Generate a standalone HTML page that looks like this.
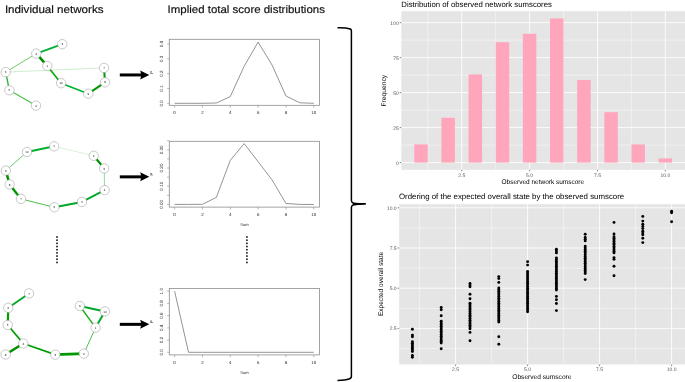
<!DOCTYPE html><html><head><meta charset="utf-8"><style>html,body{margin:0;padding:0;background:#fff;overflow:hidden}svg{display:block}text{font-family:"Liberation Sans", sans-serif;text-rendering:geometricPrecision}</style></head><body>
<svg style="will-change:transform" width="685" height="382" viewBox="0 0 685 382">
<rect width="685" height="382" fill="#fff"/>
<text x="4.9" y="12.85" font-size="10.8" fill="#111" stroke="#111" stroke-width="0.18" textLength="98.6" lengthAdjust="spacingAndGlyphs">Individual networks</text>
<text x="167.6" y="12.85" font-size="10.8" fill="#111" stroke="#111" stroke-width="0.18" textLength="157.3" lengthAdjust="spacingAndGlyphs">Implied total score distributions</text>
<line x1="5.7" y1="72.1" x2="104" y2="67.9" stroke="#c8ecc8" stroke-width="0.9" stroke-opacity="1"/>
<line x1="5.7" y1="72.1" x2="36.3" y2="53.6" stroke="#5cc45c" stroke-width="0.9" stroke-opacity="1"/>
<line x1="36.3" y1="53.6" x2="62.3" y2="44.2" stroke="#00b030" stroke-width="1.8" stroke-opacity="1"/>
<line x1="36.3" y1="53.6" x2="47.3" y2="65.9" stroke="#008f00" stroke-width="2.6" stroke-opacity="1"/>
<line x1="47.3" y1="65.9" x2="61.1" y2="83.2" stroke="#00a800" stroke-width="1.6" stroke-opacity="1"/>
<line x1="61.1" y1="83.2" x2="88.3" y2="93.7" stroke="#00b030" stroke-width="1.7" stroke-opacity="1"/>
<line x1="88.3" y1="93.7" x2="105" y2="82.3" stroke="#009a00" stroke-width="2.1" stroke-opacity="1"/>
<line x1="105" y1="82.3" x2="104" y2="67.9" stroke="#009a00" stroke-width="2.0" stroke-opacity="1"/>
<line x1="5.7" y1="72.1" x2="9.4" y2="90.3" stroke="#2db52d" stroke-width="1.4" stroke-opacity="1"/>
<line x1="9.4" y1="90.3" x2="36" y2="105.6" stroke="#4cc04c" stroke-width="1.2" stroke-opacity="1"/>
<circle cx="62.3" cy="44.2" r="4.7" fill="#fff" stroke="#9c9c9c" stroke-width="0.55"/>
<text x="62.3" y="45.300000000000004" font-size="3.0" text-anchor="middle" fill="#1a1a1a">3</text>
<circle cx="36.3" cy="53.6" r="4.7" fill="#fff" stroke="#9c9c9c" stroke-width="0.55"/>
<text x="36.3" y="54.7" font-size="3.0" text-anchor="middle" fill="#1a1a1a">2</text>
<circle cx="47.3" cy="65.9" r="4.7" fill="#fff" stroke="#9c9c9c" stroke-width="0.55"/>
<text x="47.3" y="67.0" font-size="3.0" text-anchor="middle" fill="#1a1a1a">1</text>
<circle cx="5.7" cy="72.1" r="4.7" fill="#fff" stroke="#9c9c9c" stroke-width="0.55"/>
<text x="5.7" y="73.19999999999999" font-size="3.0" text-anchor="middle" fill="#1a1a1a">6</text>
<circle cx="104" cy="67.9" r="4.7" fill="#fff" stroke="#9c9c9c" stroke-width="0.55"/>
<text x="104" y="69.0" font-size="3.0" text-anchor="middle" fill="#1a1a1a">7</text>
<circle cx="105" cy="82.3" r="4.7" fill="#fff" stroke="#9c9c9c" stroke-width="0.55"/>
<text x="105" y="83.39999999999999" font-size="3.0" text-anchor="middle" fill="#1a1a1a">8</text>
<circle cx="61.1" cy="83.2" r="4.7" fill="#fff" stroke="#9c9c9c" stroke-width="0.55"/>
<text x="61.1" y="84.3" font-size="3.0" text-anchor="middle" fill="#1a1a1a">10</text>
<circle cx="88.3" cy="93.7" r="4.7" fill="#fff" stroke="#9c9c9c" stroke-width="0.55"/>
<text x="88.3" y="94.8" font-size="3.0" text-anchor="middle" fill="#1a1a1a">9</text>
<circle cx="9.4" cy="90.3" r="4.7" fill="#fff" stroke="#9c9c9c" stroke-width="0.55"/>
<text x="9.4" y="91.39999999999999" font-size="3.0" text-anchor="middle" fill="#1a1a1a">5</text>
<circle cx="36" cy="105.6" r="4.7" fill="#fff" stroke="#9c9c9c" stroke-width="0.55"/>
<text x="36" y="106.69999999999999" font-size="3.0" text-anchor="middle" fill="#1a1a1a">4</text>
<line x1="54.2" y1="146.3" x2="27.0" y2="152.0" stroke="#00b030" stroke-width="1.9" stroke-opacity="1"/>
<line x1="27.0" y1="152.0" x2="5.8" y2="170.6" stroke="#5cc45c" stroke-width="0.9" stroke-opacity="1"/>
<line x1="5.8" y1="170.6" x2="9.6" y2="184.5" stroke="#009000" stroke-width="2.5" stroke-opacity="1"/>
<line x1="9.6" y1="184.5" x2="21.0" y2="198.9" stroke="#009a00" stroke-width="2.4" stroke-opacity="1"/>
<line x1="21.0" y1="198.9" x2="54.4" y2="207.3" stroke="#4cc04c" stroke-width="1.0" stroke-opacity="1"/>
<line x1="54.4" y1="207.3" x2="82.0" y2="201.9" stroke="#00a828" stroke-width="2.0" stroke-opacity="1"/>
<line x1="82.0" y1="201.9" x2="104.6" y2="190.1" stroke="#00a828" stroke-width="1.8" stroke-opacity="1"/>
<line x1="104.6" y1="190.1" x2="104.2" y2="168.4" stroke="#7ad27a" stroke-width="0.8" stroke-opacity="1"/>
<line x1="104.2" y1="168.4" x2="93.7" y2="155.8" stroke="#009000" stroke-width="2.2" stroke-opacity="1"/>
<line x1="93.7" y1="155.8" x2="54.2" y2="146.3" stroke="#c5eac5" stroke-width="0.6" stroke-opacity="1"/>
<circle cx="54.2" cy="146.3" r="4.7" fill="#fff" stroke="#9c9c9c" stroke-width="0.55"/>
<text x="54.2" y="147.4" font-size="3.0" text-anchor="middle" fill="#1a1a1a">1</text>
<circle cx="27.0" cy="152.0" r="4.7" fill="#fff" stroke="#9c9c9c" stroke-width="0.55"/>
<text x="27.0" y="153.1" font-size="3.0" text-anchor="middle" fill="#1a1a1a">10</text>
<circle cx="5.8" cy="170.6" r="4.7" fill="#fff" stroke="#9c9c9c" stroke-width="0.55"/>
<text x="5.8" y="171.7" font-size="3.0" text-anchor="middle" fill="#1a1a1a">9</text>
<circle cx="9.6" cy="184.5" r="4.7" fill="#fff" stroke="#9c9c9c" stroke-width="0.55"/>
<text x="9.6" y="185.6" font-size="3.0" text-anchor="middle" fill="#1a1a1a">8</text>
<circle cx="21.0" cy="198.9" r="4.7" fill="#fff" stroke="#9c9c9c" stroke-width="0.55"/>
<text x="21.0" y="200.0" font-size="3.0" text-anchor="middle" fill="#1a1a1a">7</text>
<circle cx="54.4" cy="207.3" r="4.7" fill="#fff" stroke="#9c9c9c" stroke-width="0.55"/>
<text x="54.4" y="208.4" font-size="3.0" text-anchor="middle" fill="#1a1a1a">6</text>
<circle cx="82.0" cy="201.9" r="4.7" fill="#fff" stroke="#9c9c9c" stroke-width="0.55"/>
<text x="82.0" y="203.0" font-size="3.0" text-anchor="middle" fill="#1a1a1a">5</text>
<circle cx="104.6" cy="190.1" r="4.7" fill="#fff" stroke="#9c9c9c" stroke-width="0.55"/>
<text x="104.6" y="191.2" font-size="3.0" text-anchor="middle" fill="#1a1a1a">4</text>
<circle cx="104.2" cy="168.4" r="4.7" fill="#fff" stroke="#9c9c9c" stroke-width="0.55"/>
<text x="104.2" y="169.5" font-size="3.0" text-anchor="middle" fill="#1a1a1a">3</text>
<circle cx="93.7" cy="155.8" r="4.7" fill="#fff" stroke="#9c9c9c" stroke-width="0.55"/>
<text x="93.7" y="156.9" font-size="3.0" text-anchor="middle" fill="#1a1a1a">2</text>
<line x1="29.0" y1="293.4" x2="8.3" y2="307.8" stroke="#00a828" stroke-width="1.8" stroke-opacity="1"/>
<line x1="8.3" y1="307.8" x2="7.7" y2="325.0" stroke="#00a000" stroke-width="2.2" stroke-opacity="1"/>
<line x1="7.7" y1="325.0" x2="23.3" y2="343.5" stroke="#00a000" stroke-width="1.8" stroke-opacity="1"/>
<line x1="23.3" y1="343.5" x2="5.6" y2="354.5" stroke="#009000" stroke-width="2.6" stroke-opacity="1"/>
<line x1="23.3" y1="343.5" x2="55.3" y2="354.6" stroke="#00a000" stroke-width="1.8" stroke-opacity="1"/>
<line x1="55.3" y1="354.6" x2="83.8" y2="353.6" stroke="#009a00" stroke-width="2.6" stroke-opacity="1"/>
<line x1="83.8" y1="353.6" x2="95.6" y2="327.6" stroke="#4cc04c" stroke-width="1.0" stroke-opacity="1"/>
<line x1="95.6" y1="327.6" x2="79.8" y2="306.0" stroke="#22b022" stroke-width="1.5" stroke-opacity="1"/>
<line x1="95.6" y1="327.6" x2="104.9" y2="311.4" stroke="#00a828" stroke-width="2.0" stroke-opacity="1"/>
<line x1="79.8" y1="306.0" x2="104.9" y2="311.4" stroke="#00a828" stroke-width="2.0" stroke-opacity="1"/>
<circle cx="29.0" cy="293.4" r="4.7" fill="#fff" stroke="#9c9c9c" stroke-width="0.55"/>
<text x="29.0" y="294.5" font-size="3.0" text-anchor="middle" fill="#1a1a1a">7</text>
<circle cx="8.3" cy="307.8" r="4.7" fill="#fff" stroke="#9c9c9c" stroke-width="0.55"/>
<text x="8.3" y="308.90000000000003" font-size="3.0" text-anchor="middle" fill="#1a1a1a">6</text>
<circle cx="7.7" cy="325.0" r="4.7" fill="#fff" stroke="#9c9c9c" stroke-width="0.55"/>
<text x="7.7" y="326.1" font-size="3.0" text-anchor="middle" fill="#1a1a1a">5</text>
<circle cx="23.3" cy="343.5" r="4.7" fill="#fff" stroke="#9c9c9c" stroke-width="0.55"/>
<text x="23.3" y="344.6" font-size="3.0" text-anchor="middle" fill="#1a1a1a">4</text>
<circle cx="5.6" cy="354.5" r="4.7" fill="#fff" stroke="#9c9c9c" stroke-width="0.55"/>
<text x="5.6" y="355.6" font-size="3.0" text-anchor="middle" fill="#1a1a1a">8</text>
<circle cx="55.3" cy="354.6" r="4.7" fill="#fff" stroke="#9c9c9c" stroke-width="0.55"/>
<text x="55.3" y="355.70000000000005" font-size="3.0" text-anchor="middle" fill="#1a1a1a">3</text>
<circle cx="83.8" cy="353.6" r="4.7" fill="#fff" stroke="#9c9c9c" stroke-width="0.55"/>
<text x="83.8" y="354.70000000000005" font-size="3.0" text-anchor="middle" fill="#1a1a1a">2</text>
<circle cx="95.6" cy="327.6" r="4.7" fill="#fff" stroke="#9c9c9c" stroke-width="0.55"/>
<text x="95.6" y="328.70000000000005" font-size="3.0" text-anchor="middle" fill="#1a1a1a">1</text>
<circle cx="79.8" cy="306.0" r="4.7" fill="#fff" stroke="#9c9c9c" stroke-width="0.55"/>
<text x="79.8" y="307.1" font-size="3.0" text-anchor="middle" fill="#1a1a1a">9</text>
<circle cx="104.9" cy="311.4" r="4.7" fill="#fff" stroke="#9c9c9c" stroke-width="0.55"/>
<text x="104.9" y="312.5" font-size="3.0" text-anchor="middle" fill="#1a1a1a">10</text>
<line x1="119.8" y1="74.95" x2="142.5" y2="74.95" stroke="#000" stroke-width="3.0"/>
<path d="M149.3 74.95 L140.2 70.45 L141.4 74.95 L140.2 79.45 Z" fill="#000"/>
<line x1="119.8" y1="176.85" x2="142.5" y2="176.85" stroke="#000" stroke-width="3.0"/>
<path d="M149.3 176.85 L140.2 172.35 L141.4 176.85 L140.2 181.35 Z" fill="#000"/>
<line x1="119.8" y1="324.35" x2="142.5" y2="324.35" stroke="#000" stroke-width="3.0"/>
<path d="M149.3 324.35 L140.2 319.85 L141.4 324.35 L140.2 328.85 Z" fill="#000"/>
<rect x="56.2" y="236.2" width="1.6" height="1.6" fill="#111"/>
<rect x="56.2" y="239.38" width="1.6" height="1.6" fill="#111"/>
<rect x="56.2" y="242.56" width="1.6" height="1.6" fill="#111"/>
<rect x="56.2" y="245.73999999999998" width="1.6" height="1.6" fill="#111"/>
<rect x="56.2" y="248.92" width="1.6" height="1.6" fill="#111"/>
<rect x="56.2" y="252.1" width="1.6" height="1.6" fill="#111"/>
<rect x="56.2" y="255.27999999999997" width="1.6" height="1.6" fill="#111"/>
<rect x="56.2" y="258.46" width="1.6" height="1.6" fill="#111"/>
<rect x="56.2" y="261.64" width="1.6" height="1.6" fill="#111"/>
<rect x="246.1" y="236.2" width="1.6" height="1.6" fill="#111"/>
<rect x="246.1" y="239.38" width="1.6" height="1.6" fill="#111"/>
<rect x="246.1" y="242.56" width="1.6" height="1.6" fill="#111"/>
<rect x="246.1" y="245.73999999999998" width="1.6" height="1.6" fill="#111"/>
<rect x="246.1" y="248.92" width="1.6" height="1.6" fill="#111"/>
<rect x="246.1" y="252.1" width="1.6" height="1.6" fill="#111"/>
<rect x="246.1" y="255.27999999999997" width="1.6" height="1.6" fill="#111"/>
<rect x="246.1" y="258.46" width="1.6" height="1.6" fill="#111"/>
<rect x="246.1" y="261.64" width="1.6" height="1.6" fill="#111"/>
<rect x="169.3" y="39.3" width="150.2" height="66.0" fill="none" stroke="#8c8c8c" stroke-width="0.8"/>
<line x1="167.10000000000002" y1="103.3" x2="169.3" y2="103.3" stroke="#8c8c8c" stroke-width="0.6"/>
<line x1="167.10000000000002" y1="88.47999999999999" x2="169.3" y2="88.47999999999999" stroke="#8c8c8c" stroke-width="0.6"/>
<line x1="167.10000000000002" y1="73.66" x2="169.3" y2="73.66" stroke="#8c8c8c" stroke-width="0.6"/>
<line x1="167.10000000000002" y1="58.839999999999996" x2="169.3" y2="58.839999999999996" stroke="#8c8c8c" stroke-width="0.6"/>
<line x1="167.10000000000002" y1="44.019999999999996" x2="169.3" y2="44.019999999999996" stroke="#8c8c8c" stroke-width="0.6"/>
<text transform="translate(163.2 103.3) rotate(-90)" font-size="4.6" text-anchor="middle" fill="#222">0.0</text>
<text transform="translate(163.2 88.47999999999999) rotate(-90)" font-size="4.6" text-anchor="middle" fill="#222">0.1</text>
<text transform="translate(163.2 73.66) rotate(-90)" font-size="4.6" text-anchor="middle" fill="#222">0.2</text>
<text transform="translate(163.2 58.839999999999996) rotate(-90)" font-size="4.6" text-anchor="middle" fill="#222">0.3</text>
<text transform="translate(163.2 44.019999999999996) rotate(-90)" font-size="4.6" text-anchor="middle" fill="#222">0.4</text>
<line x1="174.6" y1="105.3" x2="174.6" y2="107.7" stroke="#8c8c8c" stroke-width="0.6"/>
<text x="174.6" y="114.39999999999999" font-size="4.4" text-anchor="middle" fill="#222">0</text>
<line x1="202.44" y1="105.3" x2="202.44" y2="107.7" stroke="#8c8c8c" stroke-width="0.6"/>
<text x="202.44" y="114.39999999999999" font-size="4.4" text-anchor="middle" fill="#222">2</text>
<line x1="230.28" y1="105.3" x2="230.28" y2="107.7" stroke="#8c8c8c" stroke-width="0.6"/>
<text x="230.28" y="114.39999999999999" font-size="4.4" text-anchor="middle" fill="#222">4</text>
<line x1="258.12" y1="105.3" x2="258.12" y2="107.7" stroke="#8c8c8c" stroke-width="0.6"/>
<text x="258.12" y="114.39999999999999" font-size="4.4" text-anchor="middle" fill="#222">6</text>
<line x1="285.96" y1="105.3" x2="285.96" y2="107.7" stroke="#8c8c8c" stroke-width="0.6"/>
<text x="285.96" y="114.39999999999999" font-size="4.4" text-anchor="middle" fill="#222">8</text>
<line x1="313.79999999999995" y1="105.3" x2="313.79999999999995" y2="107.7" stroke="#8c8c8c" stroke-width="0.6"/>
<text x="313.79999999999995" y="114.39999999999999" font-size="4.4" text-anchor="middle" fill="#222">10</text>
<text transform="translate(153.4 72.3) rotate(-90)" font-size="4.0" text-anchor="middle" fill="#222">P</text>
<path d="M174.60 103.30 L188.52 103.30 L202.44 103.30 L216.36 103.00 L230.28 96.60 L244.20 66.20 L258.12 42.10 L272.04 65.00 L285.96 96.00 L299.88 102.80 L313.80 103.30" fill="none" stroke="#666" stroke-width="0.7"/>
<rect x="169.3" y="141.3" width="150.2" height="65.79999999999998" fill="none" stroke="#8c8c8c" stroke-width="0.8"/>
<line x1="167.10000000000002" y1="204.4" x2="169.3" y2="204.4" stroke="#8c8c8c" stroke-width="0.6"/>
<line x1="167.10000000000002" y1="195.3" x2="169.3" y2="195.3" stroke="#8c8c8c" stroke-width="0.6"/>
<line x1="167.10000000000002" y1="186.20000000000002" x2="169.3" y2="186.20000000000002" stroke="#8c8c8c" stroke-width="0.6"/>
<line x1="167.10000000000002" y1="177.10000000000002" x2="169.3" y2="177.10000000000002" stroke="#8c8c8c" stroke-width="0.6"/>
<line x1="167.10000000000002" y1="168.0" x2="169.3" y2="168.0" stroke="#8c8c8c" stroke-width="0.6"/>
<line x1="167.10000000000002" y1="158.9" x2="169.3" y2="158.9" stroke="#8c8c8c" stroke-width="0.6"/>
<line x1="167.10000000000002" y1="149.8" x2="169.3" y2="149.8" stroke="#8c8c8c" stroke-width="0.6"/>
<line x1="167.10000000000002" y1="140.70000000000002" x2="169.3" y2="140.70000000000002" stroke="#8c8c8c" stroke-width="0.6"/>
<text transform="translate(163.2 204.4) rotate(-90)" font-size="4.6" text-anchor="middle" fill="#222">0.00</text>
<text transform="translate(163.2 186.20000000000002) rotate(-90)" font-size="4.6" text-anchor="middle" fill="#222">0.10</text>
<text transform="translate(163.2 168.0) rotate(-90)" font-size="4.6" text-anchor="middle" fill="#222">0.20</text>
<text transform="translate(163.2 149.8) rotate(-90)" font-size="4.6" text-anchor="middle" fill="#222">0.30</text>
<line x1="174.6" y1="207.1" x2="174.6" y2="209.5" stroke="#8c8c8c" stroke-width="0.6"/>
<text x="174.6" y="216.2" font-size="4.4" text-anchor="middle" fill="#222">0</text>
<line x1="202.44" y1="207.1" x2="202.44" y2="209.5" stroke="#8c8c8c" stroke-width="0.6"/>
<text x="202.44" y="216.2" font-size="4.4" text-anchor="middle" fill="#222">2</text>
<line x1="230.28" y1="207.1" x2="230.28" y2="209.5" stroke="#8c8c8c" stroke-width="0.6"/>
<text x="230.28" y="216.2" font-size="4.4" text-anchor="middle" fill="#222">4</text>
<line x1="258.12" y1="207.1" x2="258.12" y2="209.5" stroke="#8c8c8c" stroke-width="0.6"/>
<text x="258.12" y="216.2" font-size="4.4" text-anchor="middle" fill="#222">6</text>
<line x1="285.96" y1="207.1" x2="285.96" y2="209.5" stroke="#8c8c8c" stroke-width="0.6"/>
<text x="285.96" y="216.2" font-size="4.4" text-anchor="middle" fill="#222">8</text>
<line x1="313.79999999999995" y1="207.1" x2="313.79999999999995" y2="209.5" stroke="#8c8c8c" stroke-width="0.6"/>
<text x="313.79999999999995" y="216.2" font-size="4.4" text-anchor="middle" fill="#222">10</text>
<text transform="translate(153.4 174.2) rotate(-90)" font-size="4.0" text-anchor="middle" fill="#222">P</text>
<text x="244.4" y="226.1" font-size="4.0" text-anchor="middle" fill="#222">Sum</text>
<path d="M174.60 204.40 L188.52 204.40 L202.44 204.30 L216.36 197.40 L230.28 160.30 L244.20 143.60 L258.12 161.70 L272.04 179.90 L285.96 203.50 L299.88 204.40 L313.80 204.50" fill="none" stroke="#666" stroke-width="0.7"/>
<rect x="169.3" y="288.4" width="150.2" height="66.5" fill="none" stroke="#8c8c8c" stroke-width="0.8"/>
<line x1="167.10000000000002" y1="352.3" x2="169.3" y2="352.3" stroke="#8c8c8c" stroke-width="0.6"/>
<line x1="167.10000000000002" y1="340.08" x2="169.3" y2="340.08" stroke="#8c8c8c" stroke-width="0.6"/>
<line x1="167.10000000000002" y1="327.86" x2="169.3" y2="327.86" stroke="#8c8c8c" stroke-width="0.6"/>
<line x1="167.10000000000002" y1="315.64" x2="169.3" y2="315.64" stroke="#8c8c8c" stroke-width="0.6"/>
<line x1="167.10000000000002" y1="303.42" x2="169.3" y2="303.42" stroke="#8c8c8c" stroke-width="0.6"/>
<line x1="167.10000000000002" y1="291.2" x2="169.3" y2="291.2" stroke="#8c8c8c" stroke-width="0.6"/>
<text transform="translate(163.2 352.3) rotate(-90)" font-size="4.6" text-anchor="middle" fill="#222">0.0</text>
<text transform="translate(163.2 340.08) rotate(-90)" font-size="4.6" text-anchor="middle" fill="#222">0.2</text>
<text transform="translate(163.2 327.86) rotate(-90)" font-size="4.6" text-anchor="middle" fill="#222">0.4</text>
<text transform="translate(163.2 315.64) rotate(-90)" font-size="4.6" text-anchor="middle" fill="#222">0.6</text>
<text transform="translate(163.2 303.42) rotate(-90)" font-size="4.6" text-anchor="middle" fill="#222">0.8</text>
<text transform="translate(163.2 291.2) rotate(-90)" font-size="4.6" text-anchor="middle" fill="#222">1.0</text>
<line x1="174.6" y1="354.9" x2="174.6" y2="357.29999999999995" stroke="#8c8c8c" stroke-width="0.6"/>
<text x="174.6" y="364.0" font-size="4.4" text-anchor="middle" fill="#222">0</text>
<line x1="202.44" y1="354.9" x2="202.44" y2="357.29999999999995" stroke="#8c8c8c" stroke-width="0.6"/>
<text x="202.44" y="364.0" font-size="4.4" text-anchor="middle" fill="#222">2</text>
<line x1="230.28" y1="354.9" x2="230.28" y2="357.29999999999995" stroke="#8c8c8c" stroke-width="0.6"/>
<text x="230.28" y="364.0" font-size="4.4" text-anchor="middle" fill="#222">4</text>
<line x1="258.12" y1="354.9" x2="258.12" y2="357.29999999999995" stroke="#8c8c8c" stroke-width="0.6"/>
<text x="258.12" y="364.0" font-size="4.4" text-anchor="middle" fill="#222">6</text>
<line x1="285.96" y1="354.9" x2="285.96" y2="357.29999999999995" stroke="#8c8c8c" stroke-width="0.6"/>
<text x="285.96" y="364.0" font-size="4.4" text-anchor="middle" fill="#222">8</text>
<line x1="313.79999999999995" y1="354.9" x2="313.79999999999995" y2="357.29999999999995" stroke="#8c8c8c" stroke-width="0.6"/>
<text x="313.79999999999995" y="364.0" font-size="4.4" text-anchor="middle" fill="#222">10</text>
<text transform="translate(153.4 321.65) rotate(-90)" font-size="4.0" text-anchor="middle" fill="#222">P</text>
<text x="244.4" y="373.9" font-size="4.0" text-anchor="middle" fill="#222">Sum</text>
<path d="M174.60 291.20 L188.52 352.30 L202.44 352.30 L216.36 352.30 L230.28 352.30 L244.20 352.30 L258.12 352.30 L272.04 352.30 L285.96 352.30 L299.88 352.30 L313.80 352.30" fill="none" stroke="#666" stroke-width="0.7"/>
<path d="M337.5 27.8 C343 27.6 347 28 350.4 29 Q351.4 29.6 351.4 31 L351.4 200.5 Q351.6 202.8 354 203.4 L365.8 203.8 L354 204.6 Q351.6 205.2 351.4 207.4 L351.4 376.5 Q351.4 378.4 349 379 C346 380 342 380.3 337.5 380.5" fill="none" stroke="#000" stroke-width="1.5"/>
<path d="M353.2 202.6 L365.8 203.4 L365.8 204.3 L353.2 205.4 Z" fill="#000"/>
<rect x="401.3" y="11.2" width="283.7" height="158.60000000000002" fill="#e5e5e5"/>
<line x1="427.7875" y1="11.2" x2="427.7875" y2="169.8" stroke="#fff" stroke-width="0.45"/>
<line x1="495.6625" y1="11.2" x2="495.6625" y2="169.8" stroke="#fff" stroke-width="0.45"/>
<line x1="563.5375" y1="11.2" x2="563.5375" y2="169.8" stroke="#fff" stroke-width="0.45"/>
<line x1="631.4125" y1="11.2" x2="631.4125" y2="169.8" stroke="#fff" stroke-width="0.45"/>
<line x1="401.3" y1="145.1" x2="685" y2="145.1" stroke="#fff" stroke-width="0.45"/>
<line x1="401.3" y1="110.1" x2="685" y2="110.1" stroke="#fff" stroke-width="0.45"/>
<line x1="401.3" y1="75.1" x2="685" y2="75.1" stroke="#fff" stroke-width="0.45"/>
<line x1="401.3" y1="40.10000000000001" x2="685" y2="40.10000000000001" stroke="#fff" stroke-width="0.45"/>
<line x1="461.725" y1="11.2" x2="461.725" y2="169.8" stroke="#fff" stroke-width="0.85"/>
<line x1="529.6" y1="11.2" x2="529.6" y2="169.8" stroke="#fff" stroke-width="0.85"/>
<line x1="597.475" y1="11.2" x2="597.475" y2="169.8" stroke="#fff" stroke-width="0.85"/>
<line x1="665.35" y1="11.2" x2="665.35" y2="169.8" stroke="#fff" stroke-width="0.85"/>
<line x1="401.3" y1="162.6" x2="685" y2="162.6" stroke="#fff" stroke-width="0.85"/>
<line x1="401.3" y1="127.6" x2="685" y2="127.6" stroke="#fff" stroke-width="0.85"/>
<line x1="401.3" y1="92.6" x2="685" y2="92.6" stroke="#fff" stroke-width="0.85"/>
<line x1="401.3" y1="57.599999999999994" x2="685" y2="57.599999999999994" stroke="#fff" stroke-width="0.85"/>
<line x1="401.3" y1="22.599999999999994" x2="685" y2="22.599999999999994" stroke="#fff" stroke-width="0.85"/>
<rect x="414.25" y="144.40" width="13.5" height="18.20" fill="#ffa6bc"/>
<rect x="441.40" y="117.80" width="13.5" height="44.80" fill="#ffa6bc"/>
<rect x="468.55" y="74.40" width="13.5" height="88.20" fill="#ffa6bc"/>
<rect x="495.70" y="42.20" width="13.5" height="120.40" fill="#ffa6bc"/>
<rect x="522.85" y="33.80" width="13.5" height="128.80" fill="#ffa6bc"/>
<rect x="550.00" y="18.40" width="13.5" height="144.20" fill="#ffa6bc"/>
<rect x="577.15" y="80.00" width="13.5" height="82.60" fill="#ffa6bc"/>
<rect x="604.30" y="112.20" width="13.5" height="50.40" fill="#ffa6bc"/>
<rect x="631.45" y="144.40" width="13.5" height="18.20" fill="#ffa6bc"/>
<rect x="658.60" y="158.40" width="13.5" height="4.20" fill="#ffa6bc"/>
<line x1="399.7" y1="162.6" x2="401.3" y2="162.6" stroke="#333" stroke-width="0.6"/>
<text x="398.7" y="164.5" font-size="5.0" text-anchor="end" fill="#555">0</text>
<line x1="399.7" y1="127.6" x2="401.3" y2="127.6" stroke="#333" stroke-width="0.6"/>
<text x="398.7" y="129.5" font-size="5.0" text-anchor="end" fill="#555">25</text>
<line x1="399.7" y1="92.6" x2="401.3" y2="92.6" stroke="#333" stroke-width="0.6"/>
<text x="398.7" y="94.5" font-size="5.0" text-anchor="end" fill="#555">50</text>
<line x1="399.7" y1="57.599999999999994" x2="401.3" y2="57.599999999999994" stroke="#333" stroke-width="0.6"/>
<text x="398.7" y="59.49999999999999" font-size="5.0" text-anchor="end" fill="#555">75</text>
<line x1="399.7" y1="22.599999999999994" x2="401.3" y2="22.599999999999994" stroke="#333" stroke-width="0.6"/>
<text x="398.7" y="24.499999999999993" font-size="5.0" text-anchor="end" fill="#555">100</text>
<line x1="461.725" y1="169.8" x2="461.725" y2="171.4" stroke="#333" stroke-width="0.6"/>
<text x="461.725" y="176.60000000000002" font-size="5.0" text-anchor="middle" fill="#555">2.5</text>
<line x1="529.6" y1="169.8" x2="529.6" y2="171.4" stroke="#333" stroke-width="0.6"/>
<text x="529.6" y="176.60000000000002" font-size="5.0" text-anchor="middle" fill="#555">5.0</text>
<line x1="597.475" y1="169.8" x2="597.475" y2="171.4" stroke="#333" stroke-width="0.6"/>
<text x="597.475" y="176.60000000000002" font-size="5.0" text-anchor="middle" fill="#555">7.5</text>
<line x1="665.35" y1="169.8" x2="665.35" y2="171.4" stroke="#333" stroke-width="0.6"/>
<text x="665.35" y="176.60000000000002" font-size="5.0" text-anchor="middle" fill="#555">10.0</text>
<text x="501.5" y="183.7" font-size="6.7" textLength="82.6" lengthAdjust="spacingAndGlyphs" fill="#000">Observed network sumscore</text>
<text transform="translate(386.4 106.5) rotate(-90)" font-size="6.7" textLength="31.6" lengthAdjust="spacingAndGlyphs" fill="#000">Frequency</text>
<text x="401.3" y="6.6" font-size="7.8" textLength="150.6" lengthAdjust="spacingAndGlyphs" fill="#000">Distribution of observed network sumscores</text>
<rect x="399.2" y="204.2" width="285.8" height="160.3" fill="#e5e5e5"/>
<line x1="419.59999999999997" y1="204.2" x2="419.59999999999997" y2="364.5" stroke="#fff" stroke-width="0.45"/>
<line x1="399.2" y1="348.5" x2="685" y2="348.5" stroke="#fff" stroke-width="0.45"/>
<line x1="491.59999999999997" y1="204.2" x2="491.59999999999997" y2="364.5" stroke="#fff" stroke-width="0.45"/>
<line x1="399.2" y1="308.3" x2="685" y2="308.3" stroke="#fff" stroke-width="0.45"/>
<line x1="563.6" y1="204.2" x2="563.6" y2="364.5" stroke="#fff" stroke-width="0.45"/>
<line x1="399.2" y1="268.1" x2="685" y2="268.1" stroke="#fff" stroke-width="0.45"/>
<line x1="635.6" y1="204.2" x2="635.6" y2="364.5" stroke="#fff" stroke-width="0.45"/>
<line x1="399.2" y1="227.9" x2="685" y2="227.9" stroke="#fff" stroke-width="0.45"/>
<line x1="455.59999999999997" y1="204.2" x2="455.59999999999997" y2="364.5" stroke="#fff" stroke-width="0.85"/>
<line x1="399.2" y1="328.4" x2="685" y2="328.4" stroke="#fff" stroke-width="0.85"/>
<line x1="527.6" y1="204.2" x2="527.6" y2="364.5" stroke="#fff" stroke-width="0.85"/>
<line x1="399.2" y1="288.2" x2="685" y2="288.2" stroke="#fff" stroke-width="0.85"/>
<line x1="599.6" y1="204.2" x2="599.6" y2="364.5" stroke="#fff" stroke-width="0.85"/>
<line x1="399.2" y1="248.0" x2="685" y2="248.0" stroke="#fff" stroke-width="0.85"/>
<line x1="671.5999999999999" y1="204.2" x2="671.5999999999999" y2="364.5" stroke="#fff" stroke-width="0.85"/>
<line x1="399.2" y1="207.8" x2="685" y2="207.8" stroke="#fff" stroke-width="0.85"/>
<circle cx="412.40" cy="329.30" r="1.45" fill="#000"/>
<circle cx="412.40" cy="335.10" r="1.45" fill="#000"/>
<circle cx="412.40" cy="336.70" r="1.45" fill="#000"/>
<circle cx="412.40" cy="341.70" r="1.45" fill="#000"/>
<circle cx="412.40" cy="343.35" r="1.45" fill="#000"/>
<circle cx="412.40" cy="345.00" r="1.45" fill="#000"/>
<circle cx="412.40" cy="346.65" r="1.45" fill="#000"/>
<circle cx="412.40" cy="348.30" r="1.45" fill="#000"/>
<circle cx="412.40" cy="349.95" r="1.45" fill="#000"/>
<circle cx="412.40" cy="351.60" r="1.45" fill="#000"/>
<circle cx="412.40" cy="355.40" r="1.45" fill="#000"/>
<circle cx="412.40" cy="357.20" r="1.45" fill="#000"/>
<circle cx="441.20" cy="307.50" r="1.45" fill="#000"/>
<circle cx="441.20" cy="309.70" r="1.45" fill="#000"/>
<circle cx="441.20" cy="315.70" r="1.45" fill="#000"/>
<circle cx="441.20" cy="321.20" r="1.45" fill="#000"/>
<circle cx="441.20" cy="322.88" r="1.45" fill="#000"/>
<circle cx="441.20" cy="324.55" r="1.45" fill="#000"/>
<circle cx="441.20" cy="326.23" r="1.45" fill="#000"/>
<circle cx="441.20" cy="327.91" r="1.45" fill="#000"/>
<circle cx="441.20" cy="329.58" r="1.45" fill="#000"/>
<circle cx="441.20" cy="331.26" r="1.45" fill="#000"/>
<circle cx="441.20" cy="332.94" r="1.45" fill="#000"/>
<circle cx="441.20" cy="334.62" r="1.45" fill="#000"/>
<circle cx="441.20" cy="336.29" r="1.45" fill="#000"/>
<circle cx="441.20" cy="337.97" r="1.45" fill="#000"/>
<circle cx="441.20" cy="339.65" r="1.45" fill="#000"/>
<circle cx="441.20" cy="341.32" r="1.45" fill="#000"/>
<circle cx="441.20" cy="343.00" r="1.45" fill="#000"/>
<circle cx="441.20" cy="348.80" r="1.45" fill="#000"/>
<circle cx="470.00" cy="283.40" r="1.45" fill="#000"/>
<circle cx="470.00" cy="285.10" r="1.45" fill="#000"/>
<circle cx="470.00" cy="286.80" r="1.45" fill="#000"/>
<circle cx="470.00" cy="294.20" r="1.45" fill="#000"/>
<circle cx="470.00" cy="298.80" r="1.45" fill="#000"/>
<circle cx="470.00" cy="303.30" r="1.45" fill="#000"/>
<circle cx="470.00" cy="304.99" r="1.45" fill="#000"/>
<circle cx="470.00" cy="306.69" r="1.45" fill="#000"/>
<circle cx="470.00" cy="308.38" r="1.45" fill="#000"/>
<circle cx="470.00" cy="310.07" r="1.45" fill="#000"/>
<circle cx="470.00" cy="311.77" r="1.45" fill="#000"/>
<circle cx="470.00" cy="313.46" r="1.45" fill="#000"/>
<circle cx="470.00" cy="315.15" r="1.45" fill="#000"/>
<circle cx="470.00" cy="316.85" r="1.45" fill="#000"/>
<circle cx="470.00" cy="318.54" r="1.45" fill="#000"/>
<circle cx="470.00" cy="320.23" r="1.45" fill="#000"/>
<circle cx="470.00" cy="321.93" r="1.45" fill="#000"/>
<circle cx="470.00" cy="323.62" r="1.45" fill="#000"/>
<circle cx="470.00" cy="325.31" r="1.45" fill="#000"/>
<circle cx="470.00" cy="327.01" r="1.45" fill="#000"/>
<circle cx="470.00" cy="328.70" r="1.45" fill="#000"/>
<circle cx="470.00" cy="332.40" r="1.45" fill="#000"/>
<circle cx="470.00" cy="340.80" r="1.45" fill="#000"/>
<circle cx="498.80" cy="276.60" r="1.45" fill="#000"/>
<circle cx="498.80" cy="278.60" r="1.45" fill="#000"/>
<circle cx="498.80" cy="282.40" r="1.45" fill="#000"/>
<circle cx="498.80" cy="287.90" r="1.45" fill="#000"/>
<circle cx="498.80" cy="289.61" r="1.45" fill="#000"/>
<circle cx="498.80" cy="291.32" r="1.45" fill="#000"/>
<circle cx="498.80" cy="293.03" r="1.45" fill="#000"/>
<circle cx="498.80" cy="294.74" r="1.45" fill="#000"/>
<circle cx="498.80" cy="296.45" r="1.45" fill="#000"/>
<circle cx="498.80" cy="298.16" r="1.45" fill="#000"/>
<circle cx="498.80" cy="299.87" r="1.45" fill="#000"/>
<circle cx="498.80" cy="301.58" r="1.45" fill="#000"/>
<circle cx="498.80" cy="303.29" r="1.45" fill="#000"/>
<circle cx="498.80" cy="305.00" r="1.45" fill="#000"/>
<circle cx="498.80" cy="306.71" r="1.45" fill="#000"/>
<circle cx="498.80" cy="308.42" r="1.45" fill="#000"/>
<circle cx="498.80" cy="310.13" r="1.45" fill="#000"/>
<circle cx="498.80" cy="311.84" r="1.45" fill="#000"/>
<circle cx="498.80" cy="313.55" r="1.45" fill="#000"/>
<circle cx="498.80" cy="315.26" r="1.45" fill="#000"/>
<circle cx="498.80" cy="316.97" r="1.45" fill="#000"/>
<circle cx="498.80" cy="318.68" r="1.45" fill="#000"/>
<circle cx="498.80" cy="320.39" r="1.45" fill="#000"/>
<circle cx="498.80" cy="322.10" r="1.45" fill="#000"/>
<circle cx="498.80" cy="336.80" r="1.45" fill="#000"/>
<circle cx="498.80" cy="344.30" r="1.45" fill="#000"/>
<circle cx="527.60" cy="261.80" r="1.45" fill="#000"/>
<circle cx="527.60" cy="265.10" r="1.45" fill="#000"/>
<circle cx="527.60" cy="271.40" r="1.45" fill="#000"/>
<circle cx="527.60" cy="273.08" r="1.45" fill="#000"/>
<circle cx="527.60" cy="274.76" r="1.45" fill="#000"/>
<circle cx="527.60" cy="276.44" r="1.45" fill="#000"/>
<circle cx="527.60" cy="278.12" r="1.45" fill="#000"/>
<circle cx="527.60" cy="279.80" r="1.45" fill="#000"/>
<circle cx="527.60" cy="281.47" r="1.45" fill="#000"/>
<circle cx="527.60" cy="283.15" r="1.45" fill="#000"/>
<circle cx="527.60" cy="284.83" r="1.45" fill="#000"/>
<circle cx="527.60" cy="286.51" r="1.45" fill="#000"/>
<circle cx="527.60" cy="288.19" r="1.45" fill="#000"/>
<circle cx="527.60" cy="289.87" r="1.45" fill="#000"/>
<circle cx="527.60" cy="291.55" r="1.45" fill="#000"/>
<circle cx="527.60" cy="293.23" r="1.45" fill="#000"/>
<circle cx="527.60" cy="294.91" r="1.45" fill="#000"/>
<circle cx="527.60" cy="296.59" r="1.45" fill="#000"/>
<circle cx="527.60" cy="298.27" r="1.45" fill="#000"/>
<circle cx="527.60" cy="299.95" r="1.45" fill="#000"/>
<circle cx="527.60" cy="301.62" r="1.45" fill="#000"/>
<circle cx="527.60" cy="303.30" r="1.45" fill="#000"/>
<circle cx="527.60" cy="304.98" r="1.45" fill="#000"/>
<circle cx="527.60" cy="306.66" r="1.45" fill="#000"/>
<circle cx="527.60" cy="308.34" r="1.45" fill="#000"/>
<circle cx="527.60" cy="310.02" r="1.45" fill="#000"/>
<circle cx="527.60" cy="311.70" r="1.45" fill="#000"/>
<circle cx="556.40" cy="249.20" r="1.45" fill="#000"/>
<circle cx="556.40" cy="251.05" r="1.45" fill="#000"/>
<circle cx="556.40" cy="252.90" r="1.45" fill="#000"/>
<circle cx="556.40" cy="257.90" r="1.45" fill="#000"/>
<circle cx="556.40" cy="259.59" r="1.45" fill="#000"/>
<circle cx="556.40" cy="261.29" r="1.45" fill="#000"/>
<circle cx="556.40" cy="262.98" r="1.45" fill="#000"/>
<circle cx="556.40" cy="264.68" r="1.45" fill="#000"/>
<circle cx="556.40" cy="266.37" r="1.45" fill="#000"/>
<circle cx="556.40" cy="268.07" r="1.45" fill="#000"/>
<circle cx="556.40" cy="269.76" r="1.45" fill="#000"/>
<circle cx="556.40" cy="271.46" r="1.45" fill="#000"/>
<circle cx="556.40" cy="273.15" r="1.45" fill="#000"/>
<circle cx="556.40" cy="274.85" r="1.45" fill="#000"/>
<circle cx="556.40" cy="276.54" r="1.45" fill="#000"/>
<circle cx="556.40" cy="278.24" r="1.45" fill="#000"/>
<circle cx="556.40" cy="279.93" r="1.45" fill="#000"/>
<circle cx="556.40" cy="281.63" r="1.45" fill="#000"/>
<circle cx="556.40" cy="283.32" r="1.45" fill="#000"/>
<circle cx="556.40" cy="285.02" r="1.45" fill="#000"/>
<circle cx="556.40" cy="286.71" r="1.45" fill="#000"/>
<circle cx="556.40" cy="288.41" r="1.45" fill="#000"/>
<circle cx="556.40" cy="290.10" r="1.45" fill="#000"/>
<circle cx="556.40" cy="296.40" r="1.45" fill="#000"/>
<circle cx="556.40" cy="299.80" r="1.45" fill="#000"/>
<circle cx="556.40" cy="303.50" r="1.45" fill="#000"/>
<circle cx="556.40" cy="310.60" r="1.45" fill="#000"/>
<circle cx="585.20" cy="234.30" r="1.45" fill="#000"/>
<circle cx="585.20" cy="237.40" r="1.45" fill="#000"/>
<circle cx="585.20" cy="239.15" r="1.45" fill="#000"/>
<circle cx="585.20" cy="240.90" r="1.45" fill="#000"/>
<circle cx="585.20" cy="246.10" r="1.45" fill="#000"/>
<circle cx="585.20" cy="247.82" r="1.45" fill="#000"/>
<circle cx="585.20" cy="249.54" r="1.45" fill="#000"/>
<circle cx="585.20" cy="251.26" r="1.45" fill="#000"/>
<circle cx="585.20" cy="252.97" r="1.45" fill="#000"/>
<circle cx="585.20" cy="254.69" r="1.45" fill="#000"/>
<circle cx="585.20" cy="256.41" r="1.45" fill="#000"/>
<circle cx="585.20" cy="258.13" r="1.45" fill="#000"/>
<circle cx="585.20" cy="259.85" r="1.45" fill="#000"/>
<circle cx="585.20" cy="261.57" r="1.45" fill="#000"/>
<circle cx="585.20" cy="263.29" r="1.45" fill="#000"/>
<circle cx="585.20" cy="265.01" r="1.45" fill="#000"/>
<circle cx="585.20" cy="266.73" r="1.45" fill="#000"/>
<circle cx="585.20" cy="268.44" r="1.45" fill="#000"/>
<circle cx="585.20" cy="270.16" r="1.45" fill="#000"/>
<circle cx="585.20" cy="271.88" r="1.45" fill="#000"/>
<circle cx="585.20" cy="273.60" r="1.45" fill="#000"/>
<circle cx="585.20" cy="279.60" r="1.45" fill="#000"/>
<circle cx="614.00" cy="222.40" r="1.45" fill="#000"/>
<circle cx="614.00" cy="234.00" r="1.45" fill="#000"/>
<circle cx="614.00" cy="236.70" r="1.45" fill="#000"/>
<circle cx="614.00" cy="238.32" r="1.45" fill="#000"/>
<circle cx="614.00" cy="239.94" r="1.45" fill="#000"/>
<circle cx="614.00" cy="241.56" r="1.45" fill="#000"/>
<circle cx="614.00" cy="243.18" r="1.45" fill="#000"/>
<circle cx="614.00" cy="244.80" r="1.45" fill="#000"/>
<circle cx="614.00" cy="246.42" r="1.45" fill="#000"/>
<circle cx="614.00" cy="248.04" r="1.45" fill="#000"/>
<circle cx="614.00" cy="249.66" r="1.45" fill="#000"/>
<circle cx="614.00" cy="251.28" r="1.45" fill="#000"/>
<circle cx="614.00" cy="252.90" r="1.45" fill="#000"/>
<circle cx="614.00" cy="257.60" r="1.45" fill="#000"/>
<circle cx="614.00" cy="259.20" r="1.45" fill="#000"/>
<circle cx="614.00" cy="266.30" r="1.45" fill="#000"/>
<circle cx="614.00" cy="275.80" r="1.45" fill="#000"/>
<circle cx="642.80" cy="216.40" r="1.45" fill="#000"/>
<circle cx="642.80" cy="221.10" r="1.45" fill="#000"/>
<circle cx="642.80" cy="224.20" r="1.45" fill="#000"/>
<circle cx="642.80" cy="226.40" r="1.45" fill="#000"/>
<circle cx="642.80" cy="228.60" r="1.45" fill="#000"/>
<circle cx="642.80" cy="231.30" r="1.45" fill="#000"/>
<circle cx="642.80" cy="233.00" r="1.45" fill="#000"/>
<circle cx="642.80" cy="234.80" r="1.45" fill="#000"/>
<circle cx="642.80" cy="238.30" r="1.45" fill="#000"/>
<circle cx="642.80" cy="242.60" r="1.45" fill="#000"/>
<circle cx="671.60" cy="211.20" r="1.45" fill="#000"/>
<circle cx="671.60" cy="212.80" r="1.45" fill="#000"/>
<circle cx="671.60" cy="221.70" r="1.45" fill="#000"/>
<line x1="397.59999999999997" y1="328.4" x2="399.2" y2="328.4" stroke="#333" stroke-width="0.6"/>
<text x="396.59999999999997" y="330.29999999999995" font-size="5.0" text-anchor="end" fill="#555">2.5</text>
<line x1="455.59999999999997" y1="364.5" x2="455.59999999999997" y2="366.1" stroke="#333" stroke-width="0.6"/>
<text x="455.59999999999997" y="371.3" font-size="5.0" text-anchor="middle" fill="#555">2.5</text>
<line x1="397.59999999999997" y1="288.2" x2="399.2" y2="288.2" stroke="#333" stroke-width="0.6"/>
<text x="396.59999999999997" y="290.09999999999997" font-size="5.0" text-anchor="end" fill="#555">5.0</text>
<line x1="527.6" y1="364.5" x2="527.6" y2="366.1" stroke="#333" stroke-width="0.6"/>
<text x="527.6" y="371.3" font-size="5.0" text-anchor="middle" fill="#555">5.0</text>
<line x1="397.59999999999997" y1="248.0" x2="399.2" y2="248.0" stroke="#333" stroke-width="0.6"/>
<text x="396.59999999999997" y="249.9" font-size="5.0" text-anchor="end" fill="#555">7.5</text>
<line x1="599.6" y1="364.5" x2="599.6" y2="366.1" stroke="#333" stroke-width="0.6"/>
<text x="599.6" y="371.3" font-size="5.0" text-anchor="middle" fill="#555">7.5</text>
<line x1="397.59999999999997" y1="207.8" x2="399.2" y2="207.8" stroke="#333" stroke-width="0.6"/>
<text x="396.59999999999997" y="209.70000000000002" font-size="5.0" text-anchor="end" fill="#555">10.0</text>
<line x1="671.5999999999999" y1="364.5" x2="671.5999999999999" y2="366.1" stroke="#333" stroke-width="0.6"/>
<text x="671.5999999999999" y="371.3" font-size="5.0" text-anchor="middle" fill="#555">10.0</text>
<text x="512.3" y="378.8" font-size="6.7" textLength="59.2" lengthAdjust="spacingAndGlyphs" fill="#000">Observed sumscore</text>
<text transform="translate(383.2 316.0) rotate(-90)" font-size="6.7" textLength="64.2" lengthAdjust="spacingAndGlyphs" fill="#000">Expected overall state</text>
<text x="399.0" y="199.4" font-size="7.8" textLength="225.2" lengthAdjust="spacingAndGlyphs" fill="#000">Ordering of the expected overall state by the observed sumscore</text>
</svg></body></html>
